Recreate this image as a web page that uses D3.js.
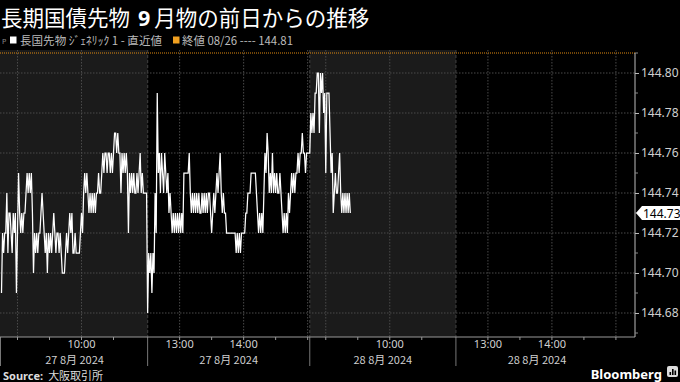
<!DOCTYPE html>
<html><head><meta charset="utf-8">
<script src="https://cdn.jsdelivr.net/npm/d3@7"></script>
<style>html,body{margin:0;padding:0;background:#000;overflow:hidden}</style>
</head><body>
<svg id="c" width="680" height="382"></svg>
<script>
// ---------- data ----------
const titleText = ["長期国債先物", "9", "月物の前日からの推移"];
const legendSeries = "長国先物 ｼﾞｪﾈﾘｯｸ 1 - 直近値";
const legendClose = "終値 08/26 ---- 144.81";
const sourceText = "大阪取引所";
const sessions = [
  {day: "27 8月 2024", start: "08:45", end: "11:02", shaded: true},
  {day: "27 8月 2024", start: "12:30", end: "15:02", shaded: false},
  {day: "28 8月 2024", start: "08:45", end: "11:02", shaded: true},
  {day: "28 8月 2024", start: "12:30", end: "15:02", shaded: false}
];
const gridTimes = ["09:00", "10:00", "13:00", "14:00", "15:00"];
const labelTimes = ["10:00", "13:00", "14:00"];
const tickTimes = ["09:00", "09:30", "10:00", "10:30", "13:00", "13:30", "14:00", "14:30", "15:00"];
const yMajor = [144.68, 144.70, 144.72, 144.74, 144.76, 144.78, 144.80];
const yMinor = [144.67, 144.69, 144.71, 144.73, 144.75, 144.77, 144.79, 144.81];
const prevClose = 144.81;
const lastValue = 144.73;
// one value per minute from each session's start
const day1Morning = [
144.69,144.72,144.71,144.72,144.72,144.74,144.71,144.73,144.73,144.72,
144.71,144.73,144.72,144.73,144.69,144.72,144.75,144.73,144.72,144.73,
144.72,144.73,144.73,144.74,144.75,144.74,144.75,144.74,144.75,144.73,
144.70,144.72,144.71,144.72,144.71,144.72,144.72,144.73,144.74,144.73,
144.72,144.71,144.72,144.70,144.72,144.71,144.72,144.71,144.72,144.73,
144.72,144.71,144.72,144.72,144.71,144.72,144.71,144.70,144.70,144.70,
144.71,144.72,144.71,144.72,144.73,144.72,144.73,144.71,144.71,144.72,
144.71,144.71,144.71,144.71,144.72,144.73,144.72,144.74,144.75,144.74,
144.75,144.74,144.73,144.74,144.73,144.74,144.73,144.74,144.73,144.74,
144.74,144.75,144.74,144.74,144.75,144.76,144.75,144.76,144.76,144.75,
144.76,144.76,144.75,144.76,144.75,144.76,144.77,144.77,144.76,144.77,
144.76,144.76,144.74,144.76,144.75,144.76,144.75,144.76,144.75,144.72,
144.75,144.74,144.75,144.74,144.75,144.74,144.74,144.75,144.74,144.75,
144.76,144.74,144.75,144.74,144.74,144.74,144.74
];
const day1Afternoon = [
144.68,144.71,144.70,144.71,144.69,144.71,144.70,144.74,144.72,144.79,
144.75,144.76,144.74,144.76,144.75,144.74,144.76,144.75,144.74,144.75,
144.73,144.74,144.73,144.72,144.73,144.72,144.73,144.72,144.73,144.72,
144.73,144.72,144.73,144.72,144.75,144.75,144.75,144.75,144.75,144.76,
144.74,144.73,144.74,144.73,144.74,144.73,144.74,144.73,144.74,144.73,
144.73,144.74,144.73,144.74,144.73,144.74,144.73,144.74,144.74,144.73,
144.72,144.73,144.74,144.73,144.74,144.75,144.74,144.75,144.76,144.74,
144.73,144.74,144.73,144.73,144.72,144.72,144.72,144.72,144.72,144.72,
144.72,144.72,144.72,144.71,144.72,144.71,144.72,144.71,144.72,144.72,
144.72,144.72,144.73,144.73,144.74,144.74,144.74,144.75,144.75,144.75,
144.75,144.75,144.74,144.73,144.72,144.73,144.72,144.73,144.72,144.74,
144.76,144.75,144.77,144.76,144.74,144.75,144.74,144.76,144.74,144.75,
144.74,144.75,144.74,144.74,144.75,144.74,144.73,144.72,144.73,144.72,
144.73,144.72,144.74,144.73,144.74,144.75,144.74,144.75,144.74,144.75,
144.75,144.76,144.75,144.76,144.76,144.77,144.76,144.76,144.75,144.76,144.76
];
const day2Morning = [
144.76,144.78,144.77,144.78,144.77,144.79,144.79,144.80,144.80,144.77,
144.80,144.79,144.80,144.78,144.79,144.75,144.79,144.79,144.79,144.77,
144.75,144.76,144.73,144.74,144.75,144.74,144.74,144.75,144.76,144.74,
144.73,144.74,144.73,144.74,144.73,144.74,144.73,144.74,144.73
];
const seriesBySession = [day1Morning, day1Afternoon, day2Morning];

// ---------- layout ----------
const W = 680, H = 382;
const plotRight = 635, plotTop = 50, axisY = 337;
const FONT = "'Noto Sans CJK JP','Noto Sans',sans-serif";
const svg = d3.select("#c");
svg.append("rect").attr("width", W).attr("height", H).attr("fill", "#000");

const toMin = s => { const [h, m] = s.split(":").map(Number); return h * 60 + m; };
let acc = 0;
const sess = sessions.map(s => {
  const st = toMin(s.start), en = toMin(s.end);
  const o = Object.assign({}, s, {st, en, off: acc});
  acc += en - st;
  return o;
});
const total = acc;
const PX = 1.0667;
const x = d3.scaleLinear().domain([0, total]).range([1.5, 1.5 + total * PX]);
const xAt = (i, t) => x(sess[i].off + toMin(t) - sess[i].st);
const inSess = (i, t) => toMin(t) >= sess[i].st && toMin(t) <= sess[i].en;
const y = d3.scaleLinear().domain([144.68, 144.80]).range([313, 73]);

// shaded sessions
sess.forEach((s, i) => {
  if (!s.shaded) return;
  const x0 = i === 0 ? 0 : x(s.off), x1 = x(s.off + s.en - s.st);
  svg.append("rect").attr("x", x0).attr("y", plotTop).attr("width", x1 - x0)
    .attr("height", axisY - plotTop).attr("fill", "#1b1b1b");
});

// horizontal grid
svg.append("g").selectAll("line").data(yMajor).join("line")
  .attr("x1", 0).attr("x2", plotRight).attr("y1", d => y(d)).attr("y2", d => y(d))
  .attr("stroke", "#4a4a4a").attr("stroke-width", 1).attr("stroke-dasharray", "1.5,1.5");

// vertical grid
const gridPos = [];
sess.forEach((s, i) => gridTimes.forEach(t => { if (inSess(i, t)) gridPos.push(xAt(i, t)); }));
svg.append("g").selectAll("line").data(gridPos).join("line")
  .attr("x1", d => d).attr("x2", d => d).attr("y1", plotTop).attr("y2", axisY)
  .attr("stroke", "#4a4a4a").attr("stroke-width", 1).attr("stroke-dasharray", "1.5,1.5");

// session separators
const sepPos = sess.slice(1, 4).map(s => x(s.off));
svg.append("g").selectAll("line").data(sepPos).join("line")
  .attr("x1", d => d).attr("x2", d => d).attr("y1", plotTop).attr("y2", axisY)
  .attr("stroke", "#3a3a3a").attr("stroke-width", 1.2).attr("stroke-dasharray", "3,2");
svg.append("g").selectAll("line").data([0.5].concat(sepPos)).join("line")
  .attr("x1", d => d).attr("x2", d => d).attr("y1", axisY).attr("y2", 366)
  .attr("stroke", "#777").attr("stroke-width", 1);

// previous close line
svg.append("line").attr("x1", 0).attr("x2", plotRight).attr("y1", y(prevClose)).attr("y2", y(prevClose))
  .attr("stroke", "#e08a10").attr("stroke-width", 1).attr("stroke-dasharray", "1,1");

// data line
const pts = [];
seriesBySession.forEach((arr, i) => arr.forEach((v, k) => pts.push([x(sess[i].off + k), y(v)])));
svg.append("path").attr("d", d3.line()(pts)).attr("fill", "none")
  .attr("stroke", "#fff").attr("stroke-width", 1.25).attr("stroke-linejoin", "miter");

// bottom axis
svg.append("line").attr("x1", 0).attr("x2", plotRight).attr("y1", axisY).attr("y2", axisY)
  .attr("stroke", "#999").attr("stroke-width", 1);
const tickPos = [];
sess.forEach((s, i) => tickTimes.forEach(t => { if (inSess(i, t)) tickPos.push(xAt(i, t)); }));
svg.append("g").selectAll("line").data(tickPos).join("line")
  .attr("x1", d => d).attr("x2", d => d).attr("y1", axisY).attr("y2", axisY + 3)
  .attr("stroke", "#999");
const tLabels = [];
sess.forEach((s, i) => labelTimes.forEach(t => { if (inSess(i, t)) tLabels.push({t, x: xAt(i, t)}); }));
svg.append("g").selectAll("text").data(tLabels).join("text")
  .attr("x", d => d.x).attr("y", 347.5).attr("text-anchor", "middle")
  .attr("font-family", "'Noto Sans',sans-serif").attr("font-size", 11).attr("fill", "#d0d0d0").text(d => d.t);
svg.append("g").selectAll("text").data(sess).join("text")
  .attr("x", d => (x(d.off) + x(d.off + d.en - d.st)) / 2).attr("y", 363.5).attr("text-anchor", "middle")
  .attr("font-family", FONT).attr("font-size", 11).attr("fill", "#d0d0d0").text(d => d.day);

// right axis
svg.append("line").attr("x1", plotRight).attr("x2", plotRight).attr("y1", y(prevClose)).attr("y2", axisY)
  .attr("stroke", "#bbb").attr("stroke-width", 1);
const ra = svg.append("g").attr("transform", `translate(${plotRight},0)`)
  .call(d3.axisRight(y).tickValues(yMajor).tickSize(4).tickPadding(2).tickFormat(d3.format(".2f")));
ra.select(".domain").remove();
ra.selectAll(".tick line").attr("stroke", "#bbb");
ra.selectAll(".tick text").attr("fill", "#d0d0d0").attr("font-family", "'Noto Sans',sans-serif").attr("font-size", 12);
svg.append("g").selectAll("line").data(yMinor).join("line")
  .attr("x1", plotRight).attr("x2", plotRight + 3).attr("y1", d => y(d)).attr("y2", d => y(d))
  .attr("stroke", "#888");

// last value tag
const ly = y(lastValue);
svg.append("path").attr("d", `M636,${ly} L642,${ly - 7} L680,${ly - 7} L680,${ly + 7} L642,${ly + 7} Z`)
  .attr("fill", "#fff");
svg.append("text").attr("x", 643).attr("y", ly + 4.5).attr("font-family", "'Noto Sans',sans-serif").attr("font-size", 12)
  .attr("fill", "#000").text(d3.format(".2f")(lastValue));

// title
const tt = svg.append("text").attr("x", 1).attr("y", 25.5).attr("font-family", FONT)
  .attr("font-size", 21.5).attr("fill", "#fff");
tt.append("tspan").text(titleText[0]);
tt.append("tspan").attr("dx", 8).attr("font-weight", "bold").attr("font-family", "'Noto Sans',sans-serif").text(titleText[1]);
tt.append("tspan").attr("dx", 4).text(titleText[2]);

// legend
svg.append("text").attr("x", 2).attr("y", 44).attr("font-family", "'DejaVu Sans',sans-serif")
  .attr("font-size", 7).attr("fill", "#888").text("P");
svg.append("rect").attr("x", 10).attr("y", 36.5).attr("width", 6.5).attr("height", 7).attr("fill", "#fff");
svg.append("text").attr("x", 20).attr("y", 44.5).attr("font-family", FONT).attr("font-size", 11.5)
  .attr("fill", "#bbb").attr("textLength", 142).attr("lengthAdjust", "spacingAndGlyphs").text(legendSeries);
svg.append("rect").attr("x", 173).attr("y", 36.5).attr("width", 6.5).attr("height", 7).attr("fill", "#f0a020");
svg.append("text").attr("x", 182).attr("y", 44.5).attr("font-family", FONT).attr("font-size", 11.5)
  .attr("fill", "#bbb").attr("textLength", 111).attr("lengthAdjust", "spacingAndGlyphs").text(legendClose);

// source
const st = svg.append("text").attr("x", 3).attr("y", 379.5).attr("font-family", FONT)
  .attr("font-size", 11).attr("fill", "#ddd");
st.append("tspan").attr("font-weight", "bold").attr("font-family", "'Noto Sans',sans-serif").attr("font-size", 11).text("Source:");
st.append("tspan").attr("dx", 5).text(sourceText);

// Bloomberg mark
svg.append("text").attr("x", 662).attr("y", 378.5).attr("text-anchor", "end")
  .attr("font-family", "'Noto Sans',sans-serif").attr("font-weight", "bold").attr("font-size", 13)
  .attr("fill", "#fff").text("Bloomberg");
svg.append("rect").attr("x", 667).attr("y", 366).attr("width", 11).attr("height", 11).attr("rx", 2).attr("fill", "#ddd");
[[669.5, 3], [672, 6], [674.5, 4.5]].forEach(([bx, bh]) =>
  svg.append("rect").attr("x", bx).attr("y", 375 - bh).attr("width", 1.6).attr("height", bh).attr("fill", "#000"));
</script>
</body></html>
